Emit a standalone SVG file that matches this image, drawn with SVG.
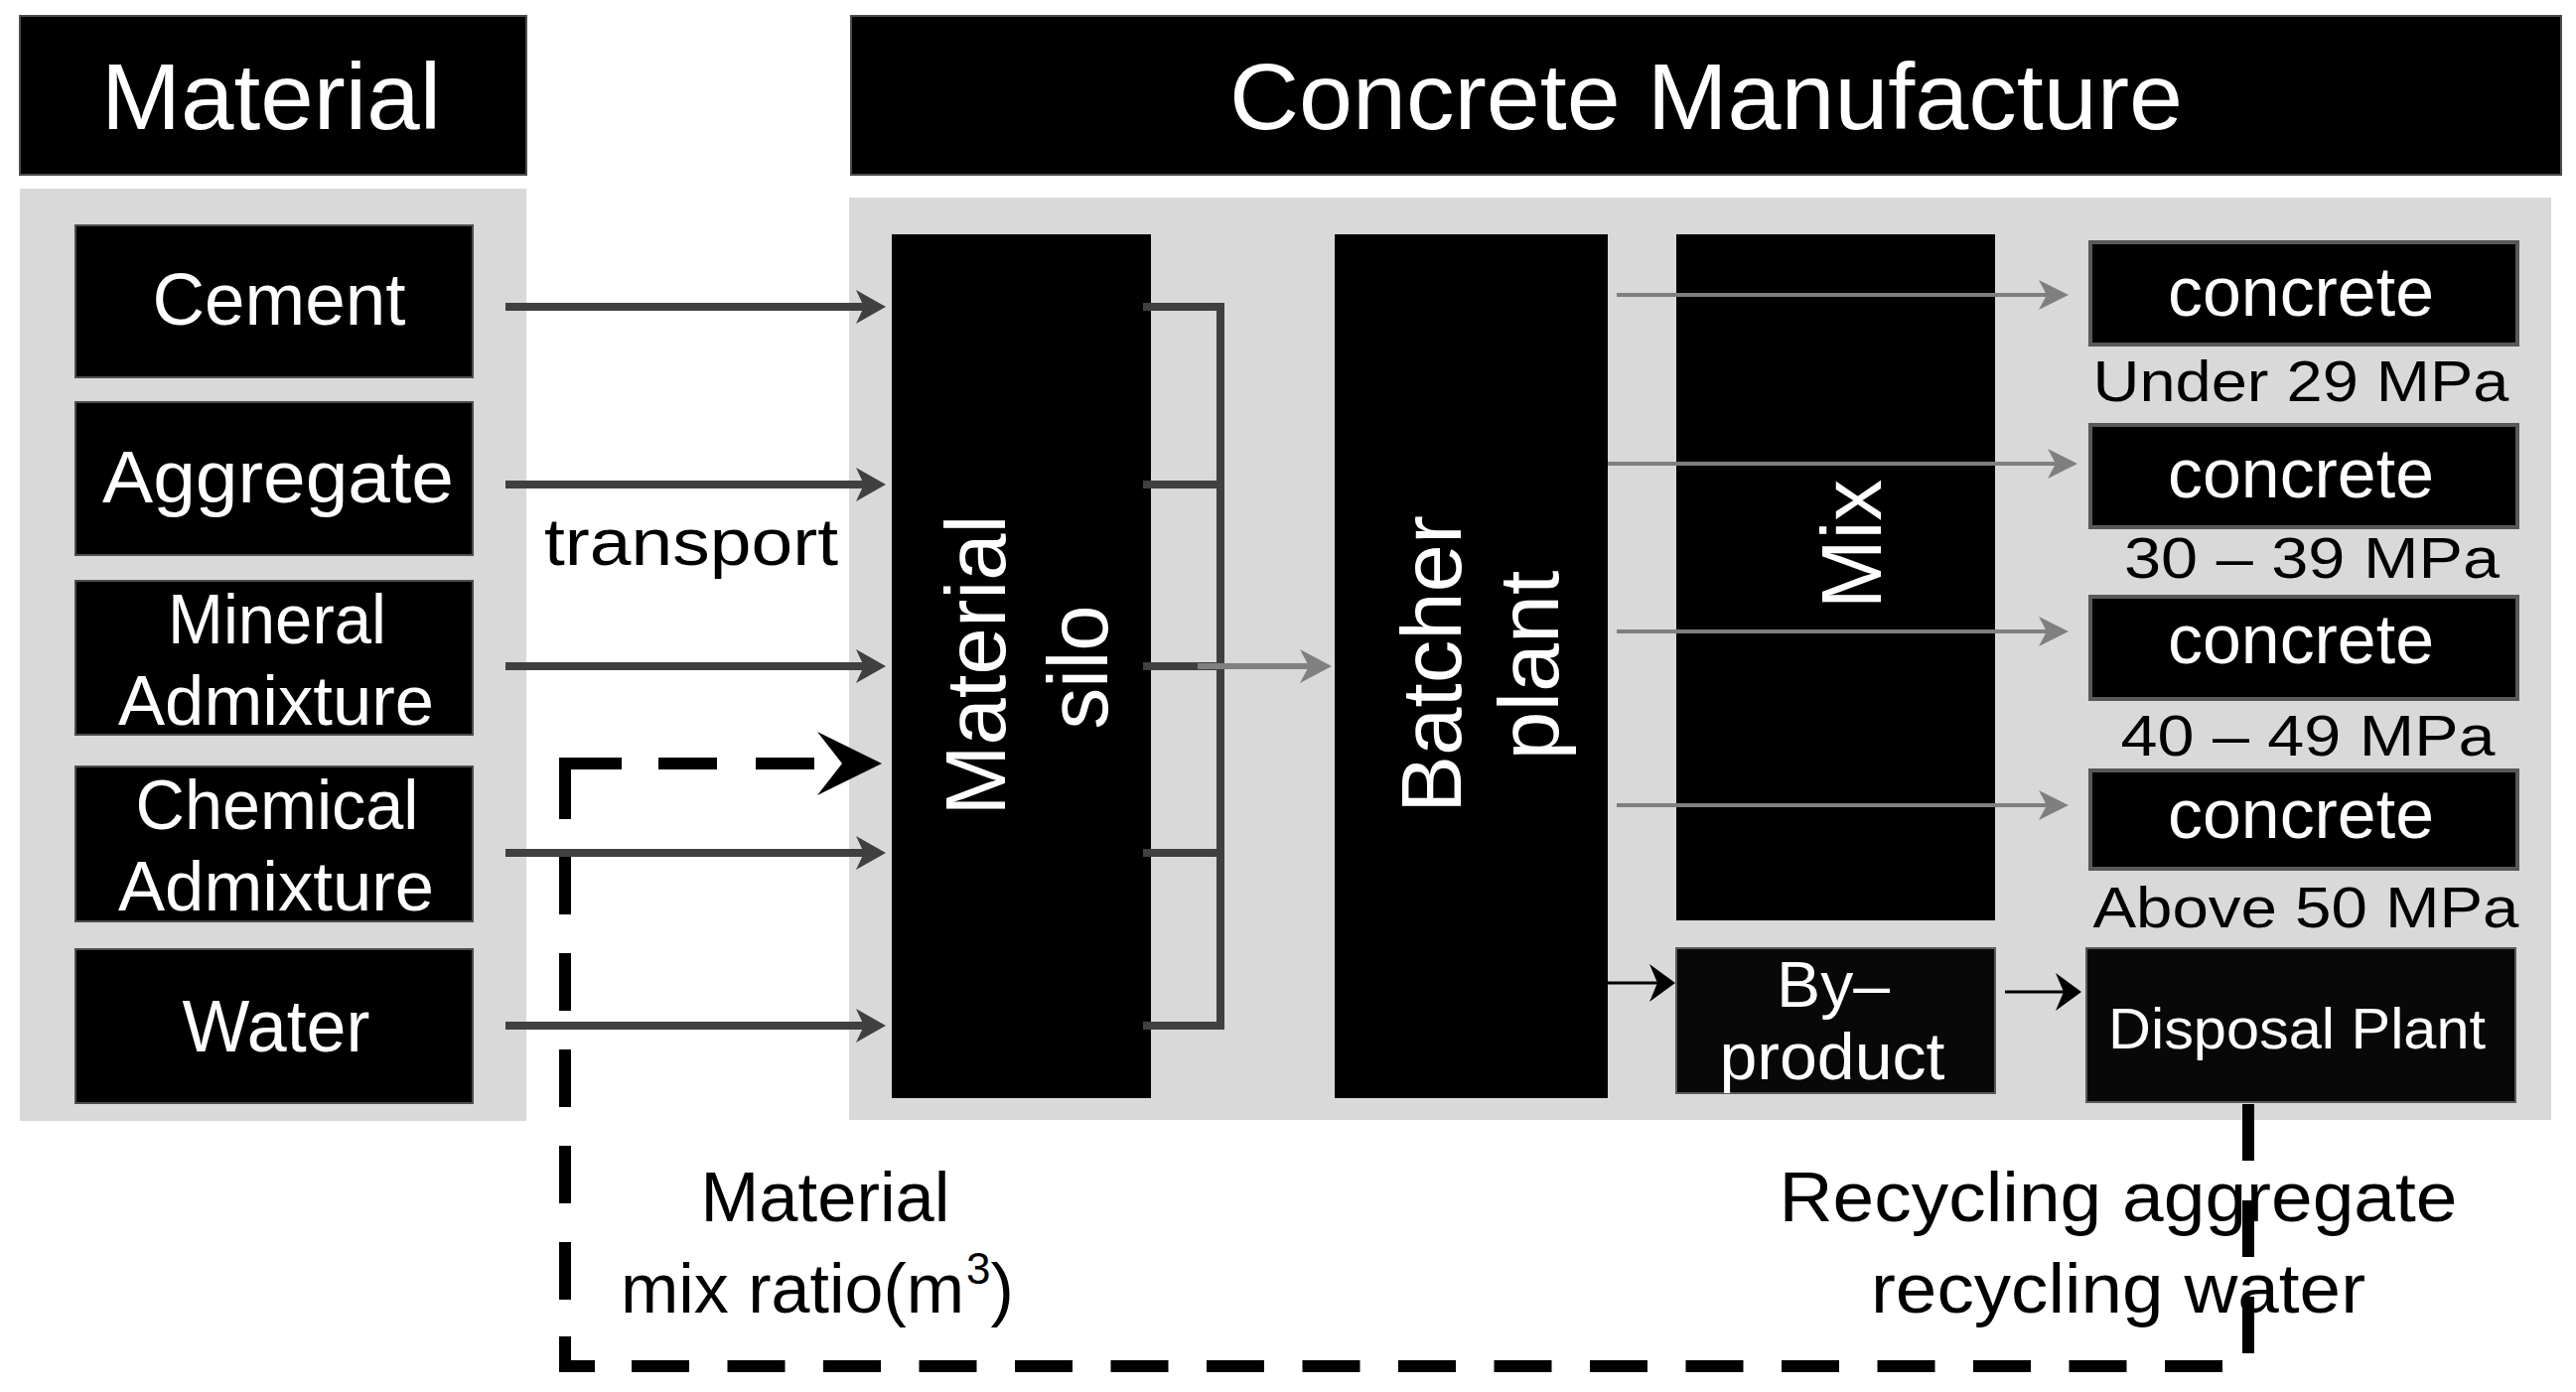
<svg xmlns="http://www.w3.org/2000/svg" width="2594" height="1402" viewBox="0 0 2594 1402">
<defs>
<style>
.box{fill:#000;stroke:#4d4d4d;stroke-width:2}
.box2{fill:#080808;stroke:#5a5a5a;stroke-width:2}
.cb{fill:#000;stroke:#595959;stroke-width:4}
.panel{fill:#d9d9d9}
.wt{fill:#fff;font-family:"Liberation Sans",Arial,sans-serif;text-anchor:middle}
.bt{fill:#000;font-family:"Liberation Sans",Arial,sans-serif;text-anchor:middle}
.arr{fill:none;stroke:#404040;stroke-width:8}
.garr{fill:none;stroke:#7f7f7f;stroke-width:4}
.garr2{fill:none;stroke:#808080;stroke-width:6}
.karr{fill:none;stroke:#000;stroke-width:3}
.dash{fill:none;stroke:#000;stroke-width:12}
</style>
<marker id="mDark" markerUnits="userSpaceOnUse" viewBox="0 0 30 34" refX="8" refY="17" markerWidth="30" markerHeight="34" orient="auto"><path d="M0,0 L30,17 L0,34 L8,17 Z" fill="#404040"/></marker>
<marker id="mGray" markerUnits="userSpaceOnUse" viewBox="0 0 30 30" refX="8" refY="15" markerWidth="30" markerHeight="30" orient="auto"><path d="M0,0 L30,15 L0,30 L8,15 Z" fill="#7f7f7f"/></marker>
<marker id="mGray2" markerUnits="userSpaceOnUse" viewBox="0 0 32 34" refX="9" refY="17" markerWidth="32" markerHeight="34" orient="auto"><path d="M0,0 L32,17 L0,34 L9,17 Z" fill="#808080"/></marker>
<marker id="mBlack" markerUnits="userSpaceOnUse" viewBox="0 0 26 38" refX="8" refY="19" markerWidth="26" markerHeight="38" orient="auto"><path d="M0,0 L26,19 L0,38 L8,19 Z" fill="#000"/></marker>
</defs>
<rect width="2594" height="1402" fill="#fff"/>

<!-- Headers -->
<g id="header-material">
<rect class="box" x="20" y="16" width="510" height="160"/>
<text class="wt" x="273" y="130" font-size="95" textLength="342" lengthAdjust="spacingAndGlyphs">Material</text>
</g>
<g id="header-manufacture">
<rect class="box" x="857" y="16" width="1722" height="160"/>
<text class="wt" x="1718" y="130" font-size="95" textLength="960" lengthAdjust="spacingAndGlyphs">Concrete Manufacture</text>
</g>

<!-- Panels -->
<g id="panel-material"><rect class="panel" x="20" y="190" width="510" height="939"/></g>
<g id="panel-manufacture"><rect class="panel" x="855" y="199" width="1714" height="929"/></g>

<!-- Material nodes -->
<g id="cement">
<rect class="box" x="76" y="227" width="400" height="153"/>
<text class="wt" x="281" y="327" font-size="74" textLength="255" lengthAdjust="spacingAndGlyphs">Cement</text>
</g>
<g id="aggregate">
<rect class="box" x="76" y="405" width="400" height="154"/>
<text class="wt" x="280" y="506" font-size="74" textLength="354" lengthAdjust="spacingAndGlyphs">Aggregate</text>
</g>
<g id="mineral-admixture">
<rect class="box" x="76" y="585" width="400" height="155"/>
<text class="wt" x="279" y="648" font-size="70" textLength="220" lengthAdjust="spacingAndGlyphs">Mineral</text>
<text class="wt" x="278" y="730" font-size="70" textLength="318" lengthAdjust="spacingAndGlyphs">Admixture</text>
</g>
<g id="chemical-admixture">
<rect class="box" x="76" y="772" width="400" height="156"/>
<text class="wt" x="279" y="835" font-size="70" textLength="285" lengthAdjust="spacingAndGlyphs">Chemical</text>
<text class="wt" x="278" y="917" font-size="70" textLength="318" lengthAdjust="spacingAndGlyphs">Admixture</text>
</g>
<g id="water">
<rect class="box" x="76" y="956" width="400" height="155"/>
<text class="wt" x="278" y="1059" font-size="74" textLength="189" lengthAdjust="spacingAndGlyphs">Water</text>
</g>

<!-- Manufacture nodes -->
<g id="material-silo">
<rect x="898" y="236" width="261" height="870" fill="#000"/>
<text class="wt" transform="translate(1012,670) rotate(-90)" font-size="85" textLength="303" lengthAdjust="spacingAndGlyphs">Material</text>
<text class="wt" transform="translate(1115,672) rotate(-90)" font-size="85" textLength="125" lengthAdjust="spacingAndGlyphs">silo</text>
</g>
<g id="batcher-plant">
<rect x="1344" y="236" width="275" height="870" fill="#000"/>
<text class="wt" transform="translate(1471,669) rotate(-90)" font-size="85" textLength="300" lengthAdjust="spacingAndGlyphs">Batcher</text>
<text class="wt" transform="translate(1569,670) rotate(-90)" font-size="85" textLength="191" lengthAdjust="spacingAndGlyphs">plant</text>
</g>
<g id="mix">
<rect x="1688" y="236" width="321" height="691" fill="#000"/>
<text class="wt" transform="translate(1894,548) rotate(-90)" font-size="85" textLength="130" lengthAdjust="spacingAndGlyphs">Mix</text>
</g>
<g id="by-product">
<rect class="box2" x="1688" y="955" width="321" height="146"/>
<text class="wt" x="1846" y="1014" font-size="64" textLength="114" lengthAdjust="spacingAndGlyphs">By–</text>
<text class="wt" x="1845" y="1087" font-size="66" textLength="227" lengthAdjust="spacingAndGlyphs">product</text>
</g>
<g id="concrete-1">
<rect class="cb" x="2105" y="244" width="430" height="103"/>
<text class="wt" x="2317" y="318" font-size="70" textLength="268" lengthAdjust="spacingAndGlyphs">concrete</text>
<text class="bt" x="2317" y="404" font-size="58" textLength="419" lengthAdjust="spacingAndGlyphs">Under 29 MPa</text>
</g>
<g id="concrete-2">
<rect class="cb" x="2105" y="428" width="430" height="103"/>
<text class="wt" x="2317" y="501" font-size="70" textLength="268" lengthAdjust="spacingAndGlyphs">concrete</text>
<text class="bt" x="2328" y="582" font-size="58" textLength="378" lengthAdjust="spacingAndGlyphs">30 – 39 MPa</text>
</g>
<g id="concrete-3">
<rect class="cb" x="2105" y="601" width="430" height="103"/>
<text class="wt" x="2317" y="668" font-size="70" textLength="268" lengthAdjust="spacingAndGlyphs">concrete</text>
<text class="bt" x="2324" y="761" font-size="58" textLength="377" lengthAdjust="spacingAndGlyphs">40 – 49 MPa</text>
</g>
<g id="concrete-4">
<rect class="cb" x="2105" y="776" width="430" height="99"/>
<text class="wt" x="2317" y="844" font-size="70" textLength="268" lengthAdjust="spacingAndGlyphs">concrete</text>
<text class="bt" x="2322" y="934" font-size="58" textLength="429" lengthAdjust="spacingAndGlyphs">Above 50 MPa</text>
</g>
<g id="disposal-plant">
<rect class="box2" x="2101" y="955" width="432" height="155"/>
<text class="wt" x="2313" y="1056" font-size="58" textLength="380" lengthAdjust="spacingAndGlyphs">Disposal Plant</text>
</g>

<!-- Free labels -->
<g id="label-transport">
<text class="bt" x="696" y="569" font-size="66" textLength="296" lengthAdjust="spacingAndGlyphs">transport</text>
</g>
<g id="label-mix-ratio">
<text class="bt" x="831" y="1230" font-size="70" textLength="251" lengthAdjust="spacingAndGlyphs">Material</text>
<text class="bt" x="625" y="1322" font-size="70" style="text-anchor:start">mix ratio(m<tspan font-size="44" dx="2" dy="-29">3</tspan><tspan dy="29">)</tspan></text>
</g>
<g id="label-recycling">
<text class="bt" x="2133" y="1230" font-size="70" textLength="683" lengthAdjust="spacingAndGlyphs">Recycling aggregate</text>
<text class="bt" x="2133" y="1322" font-size="70" textLength="498" lengthAdjust="spacingAndGlyphs">recycling water</text>
</g>

<!-- Connectors -->
<g id="connectors">
<path class="arr" d="M509,309 H870" marker-end="url(#mDark)"/>
<path class="arr" d="M509,488 H870" marker-end="url(#mDark)"/>
<path class="arr" d="M509,671 H870" marker-end="url(#mDark)"/>
<path class="arr" d="M509,859 H870" marker-end="url(#mDark)"/>
<path class="arr" d="M509,1033 H870" marker-end="url(#mDark)"/>
<path class="arr" d="M1151,309 H1229 V1033 H1151 M1151,488 H1233 M1151,671 H1229 M1151,859 H1233 M1229,309 H1233 M1229,1033 H1233" stroke-linejoin="miter"/>
<path class="garr2" d="M1206,671 H1318" marker-end="url(#mGray2)"/>
<path class="garr" d="M1628,297 H2061" marker-end="url(#mGray)"/>
<path class="garr" d="M1619,467 H2070" marker-end="url(#mGray)"/>
<path class="garr" d="M1628,636 H2061" marker-end="url(#mGray)"/>
<path class="garr" d="M1628,811 H2061" marker-end="url(#mGray)"/>
<path class="karr" d="M1619,990 H1669" marker-end="url(#mBlack)"/>
<path class="karr" d="M2019,999 H2078" marker-end="url(#mBlack)"/>
<path class="dash" d="M2264,1112 V1364" stroke-dasharray="57 40"/>
<path class="dash" d="M2238,1376 H636" stroke-dasharray="58 38.5"/>
<path class="dash" d="M599,1376 H569 V1346"/>
<path class="dash" d="M569,1309 V863" stroke-dasharray="58 39"/>
<path class="dash" d="M569,825 V769 H626"/>
<path class="dash" d="M820,769 H640" stroke-dasharray="59 39"/>
<polygon points="888,769 823,737 848,769 823,801" fill="#000"/>
</g>
</svg>
